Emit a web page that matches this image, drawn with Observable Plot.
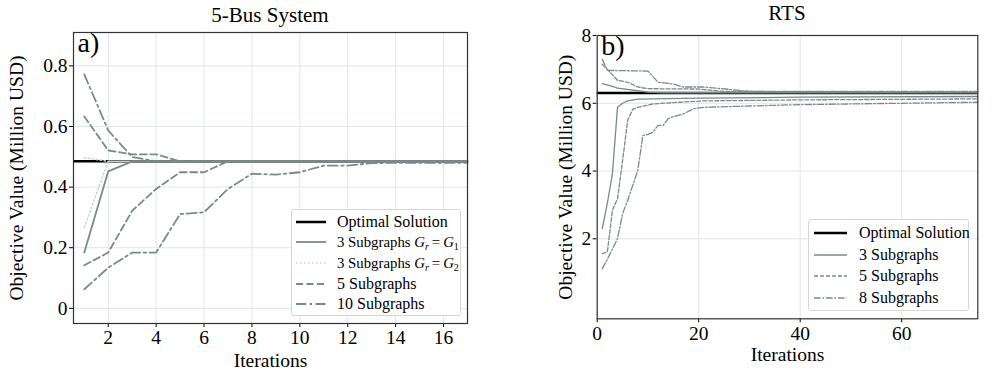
<!DOCTYPE html>
<html><head><meta charset="utf-8">
<script src="https://cdn.jsdelivr.net/npm/d3@7"></script>
<script src="https://cdn.jsdelivr.net/npm/@observablehq/plot@0.6"></script>
<style>
body{margin:0;background:#fff;font-family:"Liberation Serif",serif;color:#000}
svg, svg text, svg g{font-family:"Liberation Serif",serif !important}
#wrap{position:relative;width:996px;height:372px;overflow:hidden}
.panel{position:absolute;top:0}
.title{position:absolute;font-size:21px;transform:translateX(-50%);white-space:nowrap;line-height:1}
.legend{position:absolute;background:#fff;border:1px solid #d6d6d6;border-radius:3px;box-sizing:border-box}
.row{position:absolute;left:0;height:20px;line-height:20px;white-space:nowrap}
.row > svg{position:absolute;top:0}
.row > span{position:absolute;top:0}
.cal{font-style:italic}
sub{font-size:68%;vertical-align:-3px;line-height:0}
</style></head>
<body><div id="wrap">
<div class="title" style="left:270px;top:5px">5-Bus System</div>
<div class="title" style="left:787px;top:3px">RTS</div>
</div>
<script>
// ---------- 5-Bus System data ----------
const busIter = [1,2,3,4,5,6,7,8,9,10,11,12,13,14,15,16,17];
const busOptimal = 0.485;
const bus3g1Lower = [0.184,0.452,0.485,0.485,0.485,0.485,0.485,0.485,0.485,0.485,0.485,0.485,0.485,0.485,0.485,0.485,0.485];
const bus3g2Upper = [0.497,0.485,0.485,0.485,0.485,0.485,0.485,0.485,0.485,0.485,0.485,0.485,0.485,0.485,0.485,0.485,0.485];
const bus3g2Lower = [0.267,0.485,0.485,0.485,0.485,0.485,0.485,0.485,0.485,0.485,0.485,0.485,0.485,0.485,0.485,0.485,0.485];
const bus5Upper = [0.633,0.521,0.508,0.508,0.485,0.485,0.485,0.485,0.485,0.485,0.485,0.485,0.485,0.485,0.485,0.485,0.485];
const bus5Lower = [0.142,0.184,0.322,0.394,0.449,0.449,0.485,0.485,0.485,0.485,0.485,0.485,0.485,0.485,0.485,0.485,0.485];
const bus10Upper = [0.772,0.587,0.499,0.485,0.485,0.485,0.485,0.485,0.485,0.485,0.485,0.485,0.485,0.485,0.485,0.485,0.485];
const bus10Lower = [0.063,0.134,0.184,0.184,0.311,0.317,0.394,0.444,0.441,0.449,0.471,0.471,0.479,0.48,0.48,0.48,0.48];
const busXTicks = [2,4,6,8,10,12,14,16];
const busYTicks = [0,0.2,0.4,0.6,0.8];

// ---------- RTS data ----------
const rtsOptimal = 6.3;
const rts3UpX = [1,3,4,8,10,13,75];
const rts3UpY = [6.58,6.5,6.45,6.37,6.33,6.31,6.31];
const rts3LoX = [1,2,3,4,5,6,8,20,40,75];
const rts3LoY = [2.3,3.05,3.92,5.88,6.0,6.07,6.12,6.15,6.18,6.2];
const rts5UpX = [1,2,4,6,8,10,20,25,75];
const rts5UpY = [7.15,7.0,6.68,6.62,6.48,6.43,6.42,6.35,6.33];
const rts5LoX = [1,2,3,4,5,6,7,8,11,16,21,40,75];
const rts5LoY = [1.56,1.61,2.84,3.18,4.3,5.5,5.82,5.88,5.98,6.03,6.07,6.1,6.13];
const rts8UpX = [1,2,10,12,15,17,21,26,30,75];
const rts8UpY = [7.3,6.97,6.95,6.62,6.57,6.48,6.48,6.41,6.35,6.35];
const rts8LoX = [1,2,3,4,5,6,8,9,10,11,12,13,14,15,17,19,21,30,40,60,75];
const rts8LoY = [1.12,1.4,1.7,2.0,2.74,3.13,4.02,5.05,5.08,5.15,5.35,5.35,5.55,5.6,5.69,5.84,5.88,5.92,5.96,6.0,6.03];
const rtsXTicks = [0,20,40,60];
const rtsYTicks = [2,4,6,8];

const GRAY = "#7b8a89";
const LIGHT = "#d2d2d2";
const wrap = document.getElementById("wrap");

function pts(xs, ys){ return xs.map((x,i)=>({x, y: ys[i]})); }
function ln(xs, ys, o){ return Plot.line(pts(xs, ys), {x:"x", y:"y", stroke: o.stroke||GRAY, strokeWidth:o.w, strokeDasharray:o.dash, strokeLinejoin:"round"}); }

const common = {
  style:{fontFamily:"Liberation Serif, serif", fontSize:"19.5px", color:"#000", background:"transparent", overflow:"visible"}
};

// ---------- Left panel ----------
const left = Plot.plot({
  ...common,
  width: 480, height: 372,
  marginLeft: 73, marginRight: 13, marginTop: 32, marginBottom: 49,
  x: {domain:[0.55,17], ticks: busXTicks, tickSize:4, tickPadding:3, label:"Iterations", labelAnchor:"center", labelOffset:43, labelArrow:"none"},
  y: {domain:[-0.05,0.91], ticks: busYTicks, tickSize:4, tickPadding:2, tickFormat: d => d===0 ? "0" : d.toFixed(1), label:"Objective Value (Million USD)", labelAnchor:"center", labelOffset:64, labelArrow:"none"},
  marks: [
    Plot.gridX(busXTicks, {stroke:"#e1e6e6", strokeOpacity:1}),
    Plot.gridY(busYTicks, {stroke:"#e1e6e6", strokeOpacity:1}),
    Plot.ruleY([busOptimal], {stroke:"#000", strokeWidth:2.5}),
    ln(busIter, bus3g2Upper, {stroke:LIGHT, w:1.5, dash:"1.5,2.5"}),
    ln(busIter, bus3g2Lower, {stroke:LIGHT, w:1.5, dash:"1.5,2.5"}),
    ln(busIter, bus3g1Lower, {w:1.8}),
    ln(busIter, bus5Upper, {w:1.8, dash:"7,3.5"}),
    ln(busIter, bus5Lower, {w:1.8, dash:"7,3.5"}),
    ln(busIter, bus10Upper, {w:1.8, dash:"10,3.5,2.5,3.5"}),
    ln(busIter, bus10Lower, {w:1.8, dash:"10,3.5,2.5,3.5"}),
    Plot.text(["a)"], {frameAnchor:"top-left", dx:4, dy:0, textAnchor:"start", lineAnchor:"top", fontSize:28}),
    Plot.frame({stroke:"#333", strokeWidth:1.2})
  ]
});
left.classList.add("panel"); left.style.left = "0px";
wrap.appendChild(left);

// ---------- Right panel ----------
const right = Plot.plot({
  ...common,
  width: 516, height: 372,
  marginLeft: 116.7, marginRight: 18.7, marginTop: 35, marginBottom: 53.7,
  x: {domain:[0,75], ticks: rtsXTicks, tickSize:4, tickPadding:3, label:"Iterations", labelAnchor:"center", labelOffset:42, labelArrow:"none"},
  y: {domain:[-0.36,8], ticks: rtsYTicks, tickSize:4, tickPadding:2, label:"Objective Value (Million USD)", labelAnchor:"center", labelOffset:39, labelArrow:"none"},
  marks: [
    Plot.gridX(rtsXTicks, {stroke:"#e1e6e6", strokeOpacity:1}),
    Plot.gridY(rtsYTicks, {stroke:"#e1e6e6", strokeOpacity:1}),
    Plot.ruleY([rtsOptimal], {stroke:"#000", strokeWidth:2.5}),
    ln(rts3UpX, rts3UpY, {w:1.3}),
    ln(rts3LoX, rts3LoY, {w:1.3}),
    ln(rts5UpX, rts5UpY, {w:1.3, dash:"4,2"}),
    ln(rts5LoX, rts5LoY, {w:1.3, dash:"4,2"}),
    ln(rts8UpX, rts8UpY, {w:1.3, dash:"6.5,2,1.5,2"}),
    ln(rts8LoX, rts8LoY, {w:1.3, dash:"6.5,2,1.5,2"}),
    Plot.text(["b)"], {frameAnchor:"top-left", dx:4, dy:0, textAnchor:"start", lineAnchor:"top", fontSize:28}),
    Plot.frame({stroke:"#333", strokeWidth:1.2})
  ]
});
right.classList.add("panel"); right.style.left = "480px";
wrap.appendChild(right);

// ---------- Legends ----------
function legend(box, rows){
  const d = document.createElement("div");
  d.className = "legend";
  Object.assign(d.style, {left:box.left+"px", top:box.top+"px", width:box.width+"px", height:box.height+"px"});
  rows.forEach((r,i)=>{
    const row = document.createElement("div");
    row.className = "row";
    row.style.top = (box.rowTop + i*box.rowStep - 10) + "px";
    row.style.fontSize = (r.fs || box.fontSize) + "px";
    row.innerHTML = `<svg width="${box.sampleEnd+4}" height="20"><line x1="${box.sampleStart}" x2="${box.sampleEnd}" y1="10" y2="10" stroke="${r.stroke}" stroke-width="${r.w}" ${r.dash?`stroke-dasharray="${r.dash}"`:""}/></svg><span style="left:${box.textLeft}px">${r.label}</span>`;
    d.appendChild(row);
  });
  wrap.appendChild(d);
}
const G = '<span class="cal">G</span>';
const eq = '&thinsp;=&thinsp;';
legend({left:291, top:209, width:170, height:107, rowTop:11.5, rowStep:20.7, sampleStart:4, sampleEnd:34, textLeft:45, fontSize:16}, [
  {label:"Optimal Solution", stroke:"#000", w:2.5},
  {label:`3 Subgraphs ${G}<sub><i>r</i></sub>${eq}${G}<sub>1</sub>`, stroke:GRAY, w:1.8, fs:14.8},
  {label:`3 Subgraphs ${G}<sub><i>r</i></sub>${eq}${G}<sub>2</sub>`, stroke:LIGHT, w:1.5, dash:"1.5,2.5", fs:14.8},
  {label:"5 Subgraphs", stroke:GRAY, w:1.8, dash:"7,3.5"},
  {label:"10 Subgraphs", stroke:GRAY, w:1.8, dash:"10,3.5,2.5,3.5"}
]);
legend({left:808, top:219, width:161, height:92, rowTop:13, rowStep:21.6, sampleStart:5, sampleEnd:38, textLeft:50, fontSize:16}, [
  {label:"Optimal Solution", stroke:"#000", w:2.5},
  {label:"3 Subgraphs", stroke:GRAY, w:1.3},
  {label:"5 Subgraphs", stroke:GRAY, w:1.3, dash:"4,2"},
  {label:"8 Subgraphs", stroke:GRAY, w:1.3, dash:"6.5,2,1.5,2"}
]);
</script>
</body></html>
